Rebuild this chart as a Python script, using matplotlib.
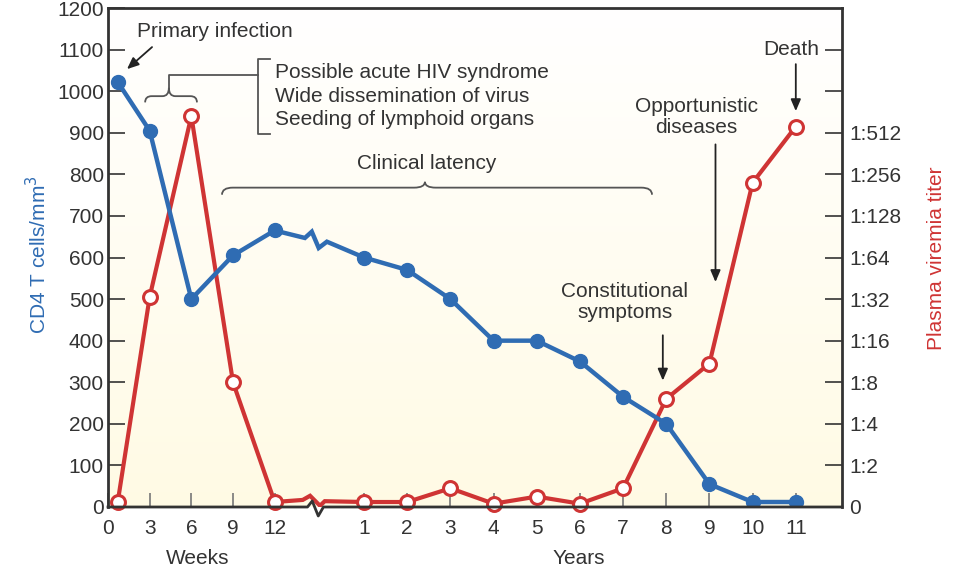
"""HIV infection course: CD4 T cell count and plasma viremia over time."""

import matplotlib.pyplot as plt
import numpy as np
from matplotlib.patches import PathPatch
from matplotlib.path import Path
import matplotlib.transforms as mtransforms

plt.rcParams["font.family"] = ["Liberation Sans", "DejaVu Sans"]

BLUE = "#2f6cb3"
RED = "#cf3434"
INK = "#333333"
FS = 15

# x layout: weeks 0-12 on the left, axis break, then years 1-11
WEEK_STEP = 0.965   # axis units per 3 weeks
YEAR_OFFSET = 4.93  # axis position of year 0
AXIS_BREAK = 4.79

week_ticks = [0, 3, 6, 9, 12]
year_ticks = [1, 2, 3, 4, 5, 6, 7, 8, 9, 10, 11]

# CD4 T cells/mm3
cd4_weeks = [0.7, 3, 6, 9, 12]
cd4_week_vals = [1022, 905, 500, 605, 665]
cd4_break_x = [4.56, 4.72, 4.88, 5.07]
cd4_break_vals = [647, 662, 623, 638]
cd4_years = [1, 2, 3, 4, 5, 6, 7, 8, 9, 10, 11]
cd4_year_vals = [600, 570, 500, 400, 400, 350, 265, 200, 55, 12, 12]

# plasma viremia, on the same 0-1200 grid (100 per doubling)
vir_weeks = [0.7, 3, 6, 9, 12]
vir_week_vals = [12, 505, 940, 300, 12]
vir_break_x = [4.51, 4.68, 4.91, 5.02]
vir_break_vals = [17, 27, 3, 14]
vir_years = [1, 2, 3, 4, 5, 6, 7, 8, 9, 10, 11]
vir_year_vals = [12, 12, 45, 8, 25, 8, 45, 260, 345, 780, 915]

titer_labels = ["0", "1:2", "1:4", "1:8", "1:16", "1:32", "1:64", "1:128",
                "1:256", "1:512", "", ""]


def wpos(w):
    return np.asarray(w, dtype=float) / 3 * WEEK_STEP


def ypos(y):
    return np.asarray(y, dtype=float) + YEAR_OFFSET


def brace(ax, x0, x1, y, tip, depth, xmid=None, **kw):
    """Horizontal curly brace, ends hanging down by depth, tip pointing up."""
    if xmid is None:
        xmid = (x0 + x1) / 2
    r = min(0.25, (x1 - x0) / 8)
    verts = [
        (x0, y - depth), (x0, y), (x0 + r, y),
        (xmid - r, y), (xmid, y), (xmid, tip),
        (xmid, y), (xmid + r, y),
        (x1 - r, y), (x1, y), (x1, y - depth),
    ]
    codes = [Path.MOVETO, Path.CURVE3, Path.CURVE3,
             Path.LINETO, Path.CURVE3, Path.CURVE3,
             Path.CURVE3, Path.CURVE3,
             Path.LINETO, Path.CURVE3, Path.CURVE3]
    ax.add_patch(PathPatch(Path(verts, codes), fill=False, **kw))


fig = plt.figure(figsize=(9.56, 5.76), dpi=100)
ax = fig.add_axes([108 / 956, 1 - 507 / 576, (842 - 108) / 956, (507 - 8) / 576])
ax.set_xlim(0, 17.0)
ax.set_ylim(0, 1200)

# light cream gradient inside the plot
grad = np.linspace(0, 1, 256).reshape(-1, 1)
top = np.array([1.0, 1.0, 1.0])
bottom = np.array([1.0, 0.982, 0.895])
img = top + (bottom - top) * grad[..., None]
ax.imshow(img, extent=[0, 1, 0, 1], transform=ax.transAxes, aspect="auto",
          origin="upper", zorder=0)

# lines
cd4_x = np.concatenate([wpos(cd4_weeks), cd4_break_x, ypos(cd4_years)])
cd4_y = np.concatenate([cd4_week_vals, cd4_break_vals, cd4_year_vals])
vir_x = np.concatenate([wpos(vir_weeks), vir_break_x, ypos(vir_years)])
vir_y = np.concatenate([vir_week_vals, vir_break_vals, vir_year_vals])

ax.plot(vir_x, vir_y, color=RED, lw=3, zorder=3, solid_joinstyle="miter")
ax.plot(cd4_x, cd4_y, color=BLUE, lw=3.2, zorder=4, solid_joinstyle="miter")
ax.plot(np.concatenate([wpos(cd4_weeks), ypos(cd4_years)]),
        np.concatenate([cd4_week_vals, cd4_year_vals]),
        ls="none", marker="o", ms=10, color=BLUE, zorder=5)
ax.plot(np.concatenate([wpos(vir_weeks), ypos(vir_years)]),
        np.concatenate([vir_week_vals, vir_year_vals]),
        ls="none", marker="o", ms=10, mfc="white", mec=RED, mew=2.2, zorder=5,
        clip_on=False)

# axes / ticks
for side in ["top", "left", "right"]:
    ax.spines[side].set_color(INK)
    ax.spines[side].set_linewidth(2)
ax.spines["bottom"].set_visible(False)

xt = list(wpos(week_ticks)) + list(ypos(year_ticks))
ax.set_xticks(xt)
ax.set_xticklabels([str(w) for w in week_ticks] + [str(y) for y in year_ticks])
ax.tick_params(axis="x", direction="in", length=10, width=1.2, colors="#777777",
               labelcolor=INK, labelsize=FS, pad=9)
ax.set_yticks(np.arange(0, 1201, 100))
ax.tick_params(axis="y", direction="in", length=12, width=1.2, colors=INK,
               labelsize=FS, pad=3)

ax2 = ax.twinx()
ax2.set_ylim(0, 1200)
ax2.set_yticks(np.arange(0, 1101, 100))
ax2.set_yticklabels(titer_labels)
ax2.tick_params(axis="y", direction="in", length=12, width=1.2, colors=INK,
                labelsize=FS, pad=5)
for s in ax2.spines.values():
    s.set_visible(False)

# bottom spine with break zigzag
trans = mtransforms.blended_transform_factory(ax.transData, ax.transAxes)
zz_x = [0, AXIS_BREAK - 0.17, AXIS_BREAK - 0.06, AXIS_BREAK + 0.08,
        AXIS_BREAK + 0.2, 17.0]
zz_y = [0, 0, 0.012, -0.018, 0, 0]
ax.plot(zz_x, zz_y, color=INK, lw=2, transform=trans, clip_on=False, zorder=6)

# axis titles
fig.text(38 / 956, 1 - 255 / 576, "CD4 T cells/mm$^3$", rotation=90, color=BLUE,
         fontsize=FS, ha="center", va="center")
fig.text(937 / 956, 1 - 258 / 576, "Plasma viremia titer", rotation=90,
         color=RED, fontsize=FS, ha="center", va="center")
fig.text(198 / 956, 1 - 558 / 576, "Weeks", color=INK, fontsize=FS,
         ha="center", va="center")
fig.text(579 / 956, 1 - 558 / 576, "Years", color=INK, fontsize=FS,
         ha="center", va="center")

# annotations
arrow = dict(arrowstyle="-|>,head_length=0.7,head_width=0.3", color="#222222",
             lw=1.3, shrinkA=0, shrinkB=0)
ax.text(0.67, 1143, "Primary infection", fontsize=FS, color=INK, va="center")
ax.annotate("", xy=(0.44, 1053), xytext=(1.02, 1106), arrowprops=arrow)

brace(ax, 0.86, 2.06, 988, 1008, 15, xmid=1.41, color="#555555", lw=1.3)
ax.plot([1.41, 1.41, 3.47], [1008, 1039, 1039], color="#555555", lw=1.3)
ax.plot([3.75, 3.47, 3.47, 3.75], [1077, 1077, 896, 896], color="#555555",
        lw=1.3)
ax.text(3.87, 988, "Possible acute HIV syndrome\nWide dissemination of virus\n"
        "Seeding of lymphoid organs", fontsize=FS, color=INK, va="center",
        linespacing=1.3)

brace(ax, 2.64, 12.6, 768, 782, 17, xmid=7.34, color="#555555", lw=1.3)
ax.text(7.39, 826, "Clinical latency", fontsize=FS, color=INK, ha="center",
        va="center")

ax.text(11.97, 493, "Constitutional\nsymptoms", fontsize=FS, color=INK,
        ha="center", va="center", linespacing=1.15)
ax.annotate("", xy=(12.85, 304), xytext=(12.85, 413), arrowprops=arrow)

ax.text(13.63, 937, "Opportunistic\ndiseases", fontsize=FS, color=INK,
        ha="center", va="center", linespacing=1.15)
ax.annotate("", xy=(14.07, 541), xytext=(14.07, 872), arrowprops=arrow)

ax.text(15.83, 1100, "Death", fontsize=FS, color=INK, ha="center", va="center")
ax.annotate("", xy=(15.93, 952), xytext=(15.93, 1065), arrowprops=arrow)

fig.savefig("out.png", dpi=100)
